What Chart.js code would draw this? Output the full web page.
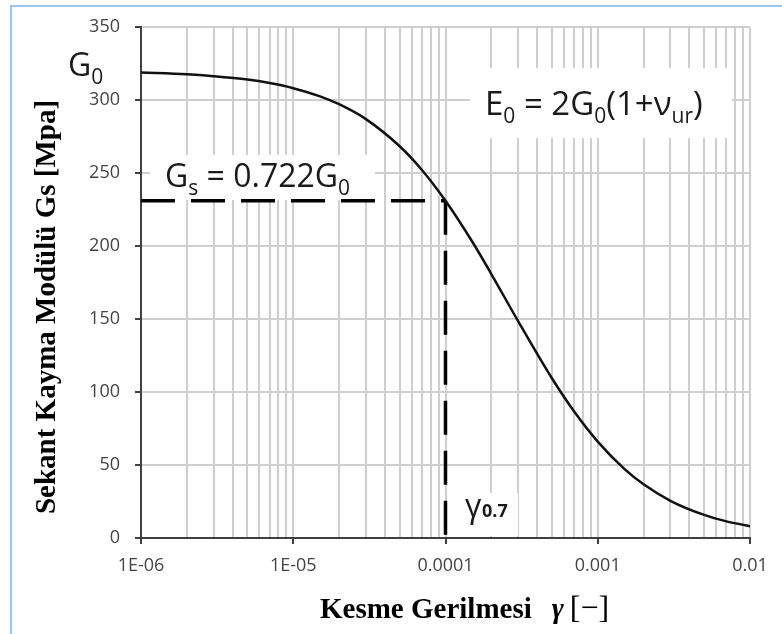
<!DOCTYPE html>
<html>
<head>
<meta charset="utf-8">
<script src="https://cdn.jsdelivr.net/npm/chart.js@4/dist/chart.umd.min.js"></script>
<style>
  html, body { margin: 0; padding: 0; background: #fff; overflow: hidden; }
  #wrap { position: relative; width: 782px; height: 634px; }
  #frame { position: absolute; left: 10px; top: 5px; width: 900px; height: 800px;
           border-left: 2px solid #9cc3e8; border-top: 2px solid #9cc3e8; }
  canvas { position: absolute; left: 0; top: 0; }
</style>
</head>
<body>
<div id="wrap">
  <div id="frame"></div>
  <canvas id="gChart" width="782" height="634"></canvas>
</div>
<script>
// Secant shear modulus curve vs. shear strain
const strain = [1e-6, 2e-6, 3e-6, 5e-6, 7e-6, 1e-5, 1.5e-5, 2e-5, 3e-5, 5e-5, 7e-5,
                1e-4, 1.5e-4, 2e-4, 3e-4, 5e-4, 7e-4, 1e-3, 1.5e-3, 2e-3, 3e-3, 5e-3, 7e-3, 1e-2];
const modulus = [318.8, 317.6, 316.3, 314.0, 311.6, 308.1, 302.5, 297.1, 286.9, 268.3, 252.1,
                 231.0, 202.9, 180.8, 148.5, 109.4, 86.6, 66.0, 47.2, 36.8, 25.5, 15.8, 11.4, 8.1];

// reference point gamma_0.7 and Gs
const gamma07 = [1e-4];
const gsLevel = [231];

// axes
const decades = [1e-6, 1e-5, 1e-4, 1e-3, 1e-2];
const xTickLabels = ['1E-06', '1E-05', '0.0001', '0.001', '0.01'];
const yTicks = [0, 50, 100, 150, 200, 250, 300, 350];

const GRID = '#cfcfcf';
const AXIS = '#404040';
const TICK_TEXT = '#444444';

// text with subscripts: parts = [[text, isSub], ...]
function drawParts(ctx, x, y, parts, size, subSize, subDrop) {
  parts.forEach(p => {
    const sub = p[1];
    ctx.font = (sub ? subSize : size) + 'px "Open Sans"';
    ctx.fillText(p[0], x, sub ? y + subDrop : y);
    x += ctx.measureText(p[0]).width;
  });
}

const labelsPlugin = {
  id: 'labels',
  beforeDatasetsDraw(chart) {
    const ctx = chart.ctx;
    ctx.save();
    ctx.fillStyle = '#fff';
    // white boxes behind the formulas
    ctx.fillRect(470, 68, 262, 70);
    ctx.fillRect(150, 155, 225, 45);
    ctx.fillRect(452, 493, 66, 43);
    ctx.restore();
  },
  afterDatasetsDraw(chart) {
    const ctx = chart.ctx;
    ctx.save();
    ctx.fillStyle = '#1a1a1a';
    ctx.textBaseline = 'alphabetic';
    ctx.textAlign = 'left';

    drawParts(ctx, 68, 76, [['G', false], ['0', true]], 32, 21, 8);
    drawParts(ctx, 485, 115, [['E', false], ['0', true], [' = 2G', false], ['0', true],
                              ['(1+ν', false], ['ur', true], [')', false]], 33, 21, 8);
    drawParts(ctx, 165, 187, [['G', false], ['s', true], [' = 0.722G', false], ['0', true]], 32, 21, 8);

    // gamma 0.7
    ctx.font = '32px "Open Sans"';
    ctx.fillText('γ', 465, 517);
    ctx.font = 'bold 18px "Open Sans"';
    ctx.fillText('0.7', 482, 517);

    // axis titles
    ctx.fillStyle = '#000';
    ctx.save();
    ctx.translate(55, 307);
    ctx.rotate(-Math.PI / 2);
    ctx.textAlign = 'center';
    ctx.font = 'bold 29px "Liberation Serif"';
    ctx.fillText('Sekant Kayma Modülü Gs [Mpa]', 0, 0);
    ctx.restore();

    let x = 320;
    const yb = 618;
    ctx.font = 'bold 29px "Liberation Serif"';
    ctx.fillText('Kesme Gerilmesi', x, yb);
    x += ctx.measureText('Kesme Gerilmesi').width + 20;
    ctx.font = 'italic bold 29px "Liberation Serif"';
    ctx.fillText('γ', x, yb);
    x += ctx.measureText('γ').width + 6;
    ctx.font = '32px "Liberation Serif"';
    ctx.fillText('[−]', x, yb);
    ctx.restore();
  }
};

const xGridValues = [];
decades.forEach((d, i) => {
  const steps = i === decades.length - 1 ? 1 : 9;
  for (let k = 1; k <= steps; k++) xGridValues.push(d * k);
});

const tickFont = { family: '"Open Sans", sans-serif', size: 18 };

const ctx = document.getElementById('gChart').getContext('2d');
const gChart = new Chart(ctx, {
  type: 'line',
  data: {
    datasets: [
      {
        label: 'G',
        data: strain.map((s, i) => ({ x: s, y: modulus[i] })),
        borderColor: '#111',
        borderWidth: 2.5,
        pointRadius: 0,
        cubicInterpolationMode: 'monotone',
        fill: false,
        order: 0
      },
      {
        label: 'Gs',
        data: [{ x: decades[0], y: gsLevel[0] }, { x: gamma07[0], y: gsLevel[0] }],
        borderColor: '#000',
        borderWidth: 3.5,
        borderDash: [34, 16],
        pointRadius: 0,
        order: 1
      },
      {
        label: 'gamma07',
        data: [{ x: gamma07[0], y: gsLevel[0] }, { x: gamma07[0], y: 0 }],
        borderColor: '#000',
        borderWidth: 3.5,
        borderDash: [34, 16],
        pointRadius: 0,
        order: 1
      }
    ]
  },
  options: {
    responsive: false,
    animation: false,
    devicePixelRatio: 1,
    layout: { padding: { top: 27, right: 32, left: 0, bottom: 0 } },
    plugins: { legend: { display: false }, tooltip: { enabled: false } },
    scales: {
      x: {
        type: 'logarithmic',
        min: decades[0],
        max: decades[decades.length - 1],
        afterBuildTicks(scale) {
          scale.ticks = xGridValues.map(v => ({ value: v }));
        },
        afterFit(scale) { scale.height = 96; },
        ticks: {
          autoSkip: false,
          maxRotation: 0,
          padding: 11,
          color: TICK_TEXT,
          font: tickFont,
          callback: (value, index) => index % 9 === 0 ? xTickLabels[index / 9] : ''
        },
        grid: {
          color: GRID,
          lineWidth: 2,
          tickLength: 6,
          tickWidth: 2,
          tickColor: c => c.index % 9 === 0 ? AXIS : 'rgba(0,0,0,0)'
        },
        border: { color: AXIS, width: 2 }
      },
      y: {
        min: yTicks[0],
        max: yTicks[yTicks.length - 1],
        afterBuildTicks(scale) {
          scale.ticks = yTicks.map(v => ({ value: v }));
        },
        afterFit(scale) { scale.width = 141; },
        ticks: {
          padding: 15,
          color: TICK_TEXT,
          font: tickFont
        },
        grid: {
          color: GRID,
          lineWidth: 2,
          tickLength: 6,
          tickWidth: 2,
          tickColor: AXIS
        },
        border: { color: AXIS, width: 2 }
      }
    }
  },
  plugins: [labelsPlugin]
});
</script>
</body>
</html>
